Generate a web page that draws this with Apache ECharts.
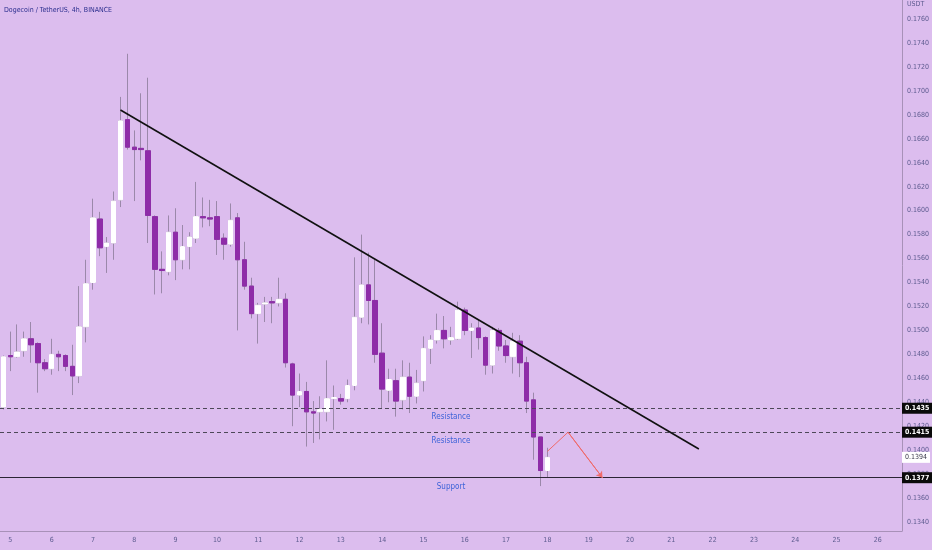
<!DOCTYPE html>
<html>
<head>
<meta charset="utf-8">
<script src="https://cdn.jsdelivr.net/npm/echarts@6/dist/echarts.min.js"></script>
<style>
html,body{margin:0;padding:0;background:#dcbdee;}
#chart{width:932px;height:550px;}
</style>
</head>
<body>
<div id="chart"></div>
<script>
// ---- data (4h candles, first candle = day 4 20:00) ----
const opens  = [0.1436,0.1479,0.1478,0.1483,0.1493,0.1489,0.1473,0.1468,0.1480,0.1479,
                0.1470,0.1462,0.1503,0.1540,0.1593,0.1570,0.1573,0.1609,0.1676,0.1653,
                0.1652,0.1650,0.1595,0.1551,0.1549,0.1582,0.1559,0.1570,0.1577,0.1595,
                0.1594,0.1595,0.1577,0.1572,0.1594,0.1559,0.1537,0.1514,0.1522,0.1524,
                0.1523,0.1526,0.1472,0.1446,0.1449,0.1432,0.1432,0.1432,0.1443,0.1443,
                0.1443,0.1454,0.1511,0.1538,0.1525,0.1481,0.1450,0.1458,0.1442,0.1461,
                0.1445,0.1458,0.1485,0.1492,0.1500,0.1492,0.1493,0.1517,0.1500,0.1502,
                0.1494,0.1471,0.1500,0.1487,0.1478,0.1491,0.1473,0.1442,0.1411,0.1383];
const closes = [0.1478,0.1478,0.1482,0.1493,0.1488,0.1473,0.1468,0.1480,0.1478,0.1470,
                0.1462,0.1503,0.1539,0.1594,0.1569,0.1573,0.1608,0.1675,0.1653,0.1651,
                0.1651,0.1596,0.1551,0.1550,0.1582,0.1559,0.1570,0.1578,0.1595,0.1594,
                0.1593,0.1576,0.1572,0.1592,0.1559,0.1537,0.1514,0.1521,0.1523,0.1523,
                0.1526,0.1473,0.1446,0.1449,0.1432,0.1431,0.1434,0.1443,0.1444,0.1441,
                0.1454,0.1511,0.1538,0.1525,0.1480,0.1451,0.1459,0.1441,0.1461,0.1445,
                0.1456,0.1485,0.1492,0.1500,0.1493,0.1494,0.1517,0.1500,0.1502,0.1494,
                0.1471,0.1500,0.1487,0.1479,0.1491,0.1473,0.1441,0.1411,0.1383,0.1394];
const lows   = [0.1434,0.1466,0.1477,0.1478,0.1473,0.1448,0.1466,0.1463,0.1466,0.1466,
                0.1446,0.1456,0.1490,0.1534,0.1562,0.1548,0.1559,0.1603,0.1651,0.1608,
                0.1642,0.1573,0.1530,0.1531,0.1546,0.1542,0.1551,0.1551,0.1573,0.1586,
                0.1587,0.1563,0.1559,0.1570,0.1500,0.1534,0.1510,0.1489,0.1507,0.1506,
                0.1520,0.1469,0.1420,0.1436,0.1403,0.1406,0.1409,0.1424,0.1417,0.1438,
                0.1440,0.1450,0.1506,0.1505,0.1473,0.1435,0.1440,0.1428,0.1434,0.1431,
                0.1439,0.1449,0.1472,0.1489,0.1485,0.1488,0.1492,0.1496,0.1477,0.1484,
                0.1463,0.1464,0.1483,0.1473,0.1464,0.1461,0.1431,0.1392,0.1370,0.1377];
const highs  = [0.1479,0.1499,0.1505,0.1499,0.1507,0.1490,0.1476,0.1493,0.1483,0.1480,
                0.1488,0.1537,0.1559,0.1610,0.1599,0.1578,0.1616,0.1695,0.1731,0.1667,
                0.1698,0.1711,0.1596,0.1566,0.1596,0.1602,0.1588,0.1582,0.1624,0.1611,
                0.1609,0.1608,0.1581,0.1606,0.1598,0.1574,0.1544,0.1523,0.1528,0.1528,
                0.1544,0.1531,0.1473,0.1464,0.1457,0.1441,0.1445,0.1475,0.1454,0.1447,
                0.1459,0.1561,0.1580,0.1565,0.1559,0.1506,0.1468,0.1468,0.1475,0.1473,
                0.1467,0.1495,0.1496,0.1514,0.1512,0.1503,0.1524,0.1519,0.1506,0.1509,
                0.1495,0.1503,0.1502,0.1492,0.1498,0.1496,0.1478,0.1448,0.1411,0.1402];

// horizontal levels
const levelValues = [0.1435, 0.1415, 0.1377];
const levelNames  = ['Resistance', 'Resistance', 'Support'];
const levelDashed = [true, true, false];

// descending trend line (slot index, price)
const trendX = [17, 101];
const trendY = [0.1684, 0.1401];

// projected path (slot index, price)
const projX = [79, 82, 87];
const projY = [0.1399, 0.1415, 0.1377];

// time slots: day 4 20:00 onwards, 4h each
const firstDay = 4, firstHour = 20, slotHours = 4, slotCount = 131;
const categories = [];
for (let k = 0; k < slotCount; k++) {
  const h = firstHour + k * slotHours;
  const day = firstDay + Math.floor(h / 24);
  const hr = h % 24;
  categories.push(day + ' ' + (hr < 10 ? '0' : '') + hr + ':00');
}

const yMin = 0.13325, yMax = 0.17759;

// ---- styles ----
const BG = '#dcbdee';
const PURPLE = '#8e2ca8';
const WICK = '#9b88aa';
const AXIS_TXT = '#5d5b8f';
const FONT = "'Liberation Sans Narrow','DejaVu Sans Condensed','Liberation Sans',sans-serif";
const HIDDEN_LINE = { color: 'rgba(0,0,0,0)', width: 0 };

const wickData = opens.map((o, i) => [o, closes[i], lows[i], highs[i]]);
const bodyData = opens.map((o, i) => [o, closes[i], Math.min(o, closes[i]), Math.max(o, closes[i])]);
const lastClose = closes[closes.length - 1];

const levelLines = [];
levelValues.forEach((v, i) => {
  levelLines.push({
    yAxis: v,
    lineStyle: { color: levelDashed[i] ? '#4d4858' : '#2c2535', width: 1, type: levelDashed[i] ? [4, 3] : 'solid' },
    label: {
      show: true, position: 'end', distance: 0, formatter: v.toFixed(4),
      backgroundColor: '#0a0a0a', color: '#ffffff', padding: [2, 3, 2, 3],
      fontSize: 7, fontFamily: FONT, fontWeight: 'bold'
    }
  });
  levelLines.push({
    yAxis: v,
    lineStyle: HIDDEN_LINE,
    label: {
      show: true, position: 'insideMiddleBottom', distance: 5, formatter: levelNames[i],
      color: '#3c62d8', fontSize: 8, fontFamily: FONT
    }
  });
});
levelLines.push({
  yAxis: lastClose,
  lineStyle: HIDDEN_LINE,
  label: {
    show: true, position: 'end', distance: 0, formatter: lastClose.toFixed(4),
    backgroundColor: '#ffffff', color: '#3a3a4a', padding: [2, 3, 2, 3],
    fontSize: 7, fontFamily: FONT
  }
});

const chart = echarts.init(document.getElementById('chart'), null, { renderer: 'canvas' });
chart.setOption({
  backgroundColor: BG,
  animation: false,
  title: {
    text: 'Dogecoin / TetherUS, 4h, BINANCE',
    left: 4, top: 7, padding: 0,
    textStyle: { fontSize: 7, fontWeight: 'normal', color: '#2b2e8e', fontFamily: FONT }
  },
  grid: { left: -2.66, right: 29, top: 0, bottom: 19 },
  xAxis: {
    type: 'category',
    data: categories,
    boundaryGap: true,
    axisLine: { show: true, lineStyle: { color: '#a891b8', width: 1 } },
    axisTick: { show: false },
    splitLine: { show: false },
    axisLabel: {
      interval: (idx, val) => val.endsWith(' 00:00'),
      formatter: (val) => val.split(' ')[0],
      color: AXIS_TXT, fontSize: 7, fontFamily: FONT, margin: 6
    }
  },
  yAxis: {
    type: 'value',
    position: 'right',
    min: yMin, max: yMax,
    minInterval: 0.002, maxInterval: 0.002,
    name: 'USDT',
    nameLocation: 'end',
    nameGap: -8,
    nameTextStyle: { color: AXIS_TXT, fontSize: 7, fontFamily: FONT, align: 'left', padding: [0, 0, 0, 5] },
    axisLine: { show: true, lineStyle: { color: '#a891b8', width: 1 } },
    axisTick: { show: false },
    splitLine: { show: false },
    axisLabel: {
      showMinLabel: false, showMaxLabel: false,
      formatter: (v) => v.toFixed(4),
      color: AXIS_TXT, fontSize: 7, fontFamily: FONT, margin: 5
    }
  },
  series: [
    {
      name: 'wicks',
      type: 'candlestick',
      data: wickData,
      barWidth: 5,
      silent: true,
      itemStyle: { color: WICK, color0: WICK, borderColor: WICK, borderColor0: WICK, borderWidth: 1 }
    },
    {
      name: 'bodies',
      type: 'candlestick',
      data: bodyData,
      barWidth: 5,
      silent: true,
      itemStyle: { color: '#ffffff', color0: PURPLE, borderColor: '#ffffff', borderColor0: PURPLE, borderWidth: 1 }
    },
    {
      name: 'levels',
      type: 'line',
      data: trendX.map((x, i) => [x, trendY[i]]),
      symbol: 'none',
      silent: true,
      lineStyle: { opacity: 0 },
      z: 3,
      markLine: { silent: true, symbol: 'none', precision: 4, data: levelLines }
    },
    {
      name: 'trend',
      type: 'line',
      data: trendX.map((x, i) => [x, trendY[i]]),
      symbol: 'none',
      silent: true,
      lineStyle: { color: '#111111', width: 1.6 },
      z: 5
    },
    {
      name: 'projection',
      type: 'line',
      data: projX.map((x, i) => [x, projY[i]]),
      symbol: 'none',
      silent: true,
      lineStyle: { color: '#f06a6a', width: 1 },
      z: 5,
      markLine: {
        silent: true,
        symbol: ['none', 'arrow'],
        symbolSize: 6,
        label: { show: false },
        lineStyle: { color: '#f06a6a', width: 1, type: 'solid' },
        data: [[{ coord: [projX[1], projY[1]] }, { coord: [projX[2], projY[2]] }]]
      }
    }
  ]
});
</script>
</body>
</html>
